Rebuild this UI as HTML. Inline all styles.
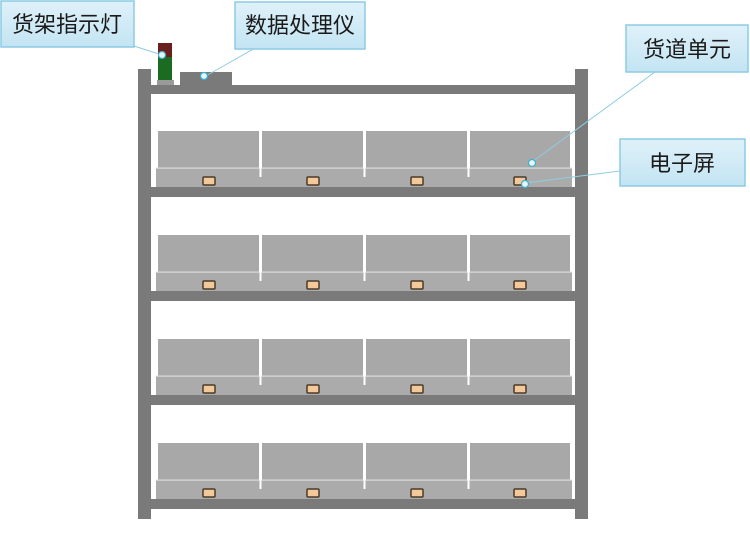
<!DOCTYPE html>
<html><head><meta charset="utf-8"><style>
html,body{margin:0;padding:0;background:#fff;width:750px;height:535px;overflow:hidden}
svg{display:block}
text{font-family:"Liberation Sans","Noto Sans CJK SC",sans-serif;font-size:22px;fill:#1a1a1a}
</style></head><body>
<svg width="750" height="535" viewBox="0 0 750 535" xmlns="http://www.w3.org/2000/svg">
<defs>
<linearGradient id="lb" x1="0" y1="0" x2="0" y2="1"><stop offset="0" stop-color="#dff1f9"/><stop offset="1" stop-color="#c3e4f3"/></linearGradient>
<g id="row">
  <rect x="156" y="37" width="416" height="19" fill="#ababab"/>
  <rect x="158" y="0" width="101" height="37" fill="#a8a8a8"/>
  <rect x="262" y="0" width="101" height="37" fill="#a8a8a8"/>
  <rect x="366" y="0" width="101" height="37" fill="#a8a8a8"/>
  <rect x="470" y="0" width="100" height="37" fill="#a8a8a8"/>
  <rect x="156" y="36.5" width="416" height="1.2" fill="#dcdcdc"/>
  <rect x="259.5" y="0" width="2" height="46" fill="#fff"/>
  <rect x="363.5" y="0" width="2" height="46" fill="#fff"/>
  <rect x="467.5" y="0" width="2" height="46" fill="#fff"/>
  <g fill="#f3c89a" stroke="#4a3a2a" stroke-width="1.5">
    <rect x="203" y="46" width="12" height="8" rx="1"/>
    <rect x="307" y="46" width="12" height="8" rx="1"/>
    <rect x="411" y="46" width="12" height="8" rx="1"/>
    <rect x="514" y="46" width="12" height="8" rx="1"/>
  </g>
</g>
</defs>
<rect x="138" y="69" width="13" height="450" fill="#7a7a7a"/>
<rect x="575" y="69" width="13" height="450" fill="#7a7a7a"/>
<rect x="151" y="85" width="424" height="9" fill="#7a7a7a"/>
<rect x="158" y="43" width="14" height="14" fill="#6b1e1e"/>
<rect x="158" y="57" width="14" height="24" fill="#1c6b22"/>
<rect x="157" y="80" width="17" height="5" fill="#9a9a9a"/>
<rect x="180" y="72" width="52" height="13" fill="#7a7a7a"/>
<use href="#row" y="131"/>
<use href="#row" y="235"/>
<use href="#row" y="339"/>
<use href="#row" y="443"/>
<g fill="#7a7a7a">
<rect x="151" y="187" width="424" height="10"/>
<rect x="151" y="291" width="424" height="10"/>
<rect x="151" y="395" width="424" height="10"/>
<rect x="151" y="499" width="424" height="10"/>
</g>
<g stroke="#8fcde0" stroke-width="1" fill="none">
<line x1="134" y1="46" x2="162" y2="55"/>
<line x1="255" y1="48" x2="204" y2="77"/>
<line x1="655" y1="72" x2="532" y2="162"/>
<line x1="620" y1="171" x2="525" y2="183"/>
</g>
<g fill="#e6f7fc" stroke="#3fb0d0" stroke-width="1.2">
<circle cx="162" cy="55" r="3.5"/>
<circle cx="204" cy="76" r="3.5"/>
<circle cx="532" cy="163" r="3.5"/>
<circle cx="525" cy="184" r="3.5"/>
</g>
<g fill="url(#lb)" stroke="#8ccbe4" stroke-width="1.5">
<rect x="1" y="1" width="133" height="46"/>
<rect x="235" y="2" width="130" height="47"/>
<rect x="626" y="25" width="122" height="47"/>
<rect x="620" y="139" width="125" height="47"/>
</g>
<text x="67" y="32" text-anchor="middle">货架指示灯</text>
<text x="300" y="33" text-anchor="middle">数据处理仪</text>
<text x="687" y="57" text-anchor="middle">货道单元</text>
<text x="682" y="171" text-anchor="middle">电子屏</text>
</svg>
</body></html>
